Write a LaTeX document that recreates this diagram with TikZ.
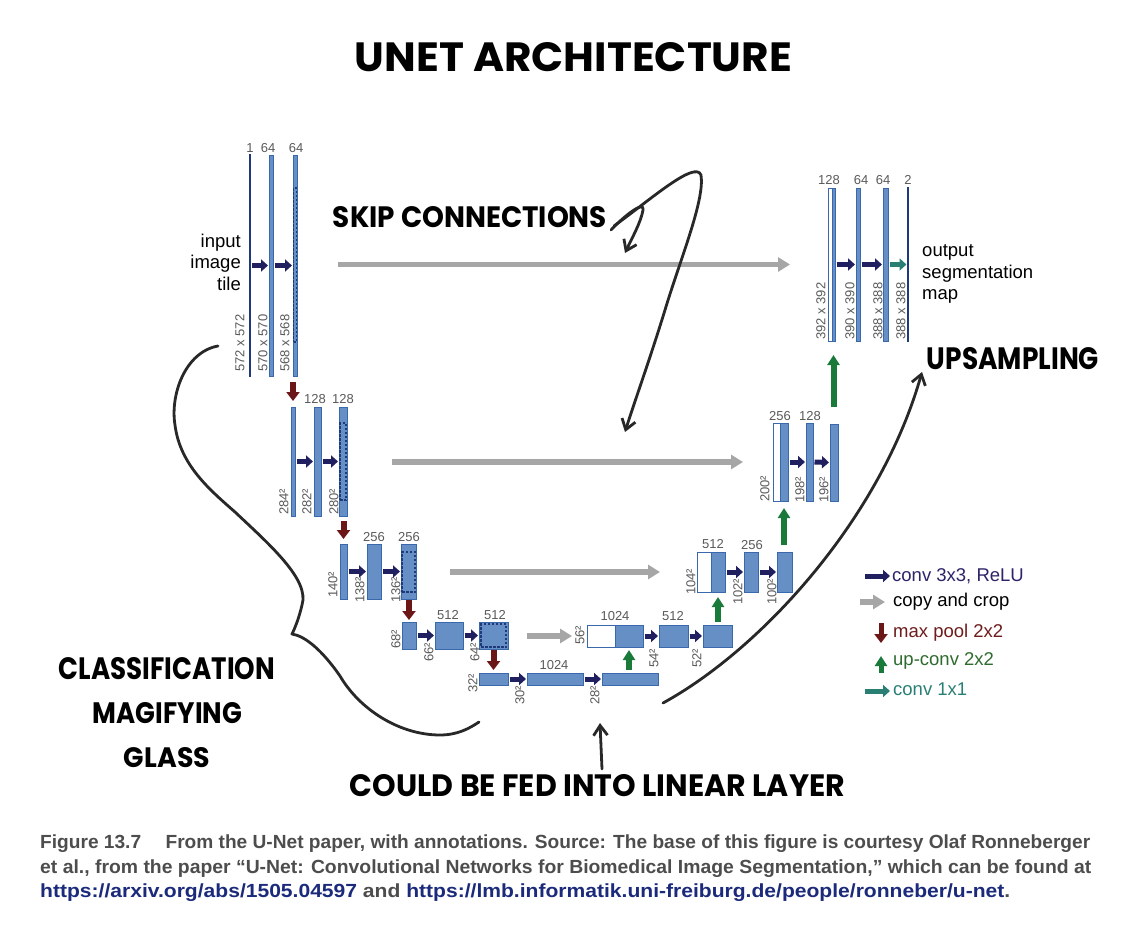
\documentclass[tikz,border=0pt]{standalone}
\usepackage{fontspec}
\usepackage{graphicx}
\setmainfont{Liberation Sans}
\newfontfamily\hand{Poppins}
\newfontfamily\capfont{Liberation Sans}
\usetikzlibrary{arrows.meta,fit}
\definecolor{barfill}{RGB}{102,144,197}
\definecolor{bardraw}{RGB}{58,104,173}
\definecolor{dashc}{RGB}{31,58,122}
\definecolor{numgray}{RGB}{90,90,90}
\definecolor{convc}{RGB}{32,32,96}
\definecolor{poolc}{RGB}{107,23,23}
\definecolor{upc}{RGB}{26,122,58}
\definecolor{copyc}{RGB}{166,166,166}
\definecolor{tealc}{RGB}{42,127,117}
\definecolor{inkc}{RGB}{40,40,40}
\definecolor{capgray}{RGB}{77,77,77}
\definecolor{capblue}{RGB}{27,42,122}
\definecolor{convtext}{RGB}{44,36,104}
\definecolor{pooltext}{RGB}{110,28,28}
\definecolor{uptext}{RGB}{46,107,46}
\begin{document}
\begin{tikzpicture}[x=1pt,y=-1pt,
  bar/.style={fit={#1}, inner sep=0pt, outer sep=0pt, fill=barfill, draw=bardraw, line width=0.8pt},
  wbar/.style={fit={#1}, inner sep=0pt, outer sep=0pt, fill=white, draw=bardraw, line width=0.8pt},
  tbar/.style={fit={#1}, inner sep=0pt, outer sep=0pt, draw=dashc, line width=1.3pt},
  dbox/.style={fit={#1}, inner sep=0pt, outer sep=0pt, draw=dashc, line width=1.6pt, dash pattern=on 2.5pt off 1.5pt},
  num/.style={font=\fontsize{13}{15}\selectfont, text=numgray, inner sep=0pt},
  rnum/.style={num, rotate=90, anchor=west},
  conv/.style={draw=convc, line width=5pt, -{Triangle[length=7pt,width=12pt]}, shorten <=1.5pt, shorten >=1pt},
  tealar/.style={draw=tealc, line width=5pt, -{Triangle[length=7pt,width=12pt]}, shorten <=1.5pt, shorten >=1pt},
  pool/.style={draw=poolc, line width=6pt, -{Triangle[length=9pt,width=13pt]}},
  upar/.style={draw=upc, line width=6pt, -{Triangle[length=10pt,width=12pt]}},
  copyar/.style={draw=copyc, line width=5.5pt, -{Triangle[length=12pt,width=14pt]}},
  ink/.style={draw=inkc, line width=2.8pt, line cap=round, line join=round},
  inkarrow/.style={ink, -{Straight Barb[length=10pt,width=14pt]}},
  big/.style={font=\fontsize{18.5}{21.5}\selectfont, inner sep=0pt},
  hw/.style={inner sep=0pt, outer sep=0pt},
  captxt/.style={inner sep=0pt, anchor=base west, font=\capfont\bfseries\fontsize{19}{22}\selectfont}
]
\useasboundingbox[fill=white] (0,0) rectangle (1137,939);

% ---------- level 1 (contracting) ----------
\node[tbar={(250,155)(250,376)}] (l1a) {};
\node[bar={(269,155)(273,376)}] (l1b) {};
\node[bar={(293,155)(297,376)}] (l1c) {};
\node[dbox={(293.5,188)(296.5,342)}] (l1cd) {};
\node[num] (n1a) at (250,148) {1};
\node[num] (n1b) at (268,148) {64};
\node[num] (n1c) at (296,148) {64};
\node[rnum] (s1a) at (240,372) {572 x 572};
\node[rnum] (s1b) at (263,372) {570 x 570};
\node[rnum] (s1c) at (285,372) {568 x 568};
\draw[conv] (l1a.east) -- (l1b.west);
\draw[conv] (l1b.east) -- (l1c.west);
\node[big, align=right, anchor=east] (inp) at (241,262) {input\\image\\tile};

% ---------- level 2 ----------
\node[bar={(291,407)(295,516)}] (l2a) {};
\node[bar={(314,407)(321,516)}] (l2b) {};
\node[bar={(339,407)(347,516)}] (l2c) {};
\node[dbox={(340,423)(346,500)}] (l2cd) {};
\node[num] (n2b) at (315,399) {128};
\node[num] (n2c) at (343,399) {128};
\node[rnum] (s2a) at (284,515) {284²};
\node[rnum] (s2b) at (307,515) {282²};
\node[rnum] (s2c) at (334,515) {280²};
\draw[conv] (l2a.east) -- (l2b.west);
\draw[conv] (l2b.east) -- (l2c.west);
\draw[pool, shorten <=6pt, shorten >=6pt] (l2a.north |- l1c.south) -- (l2a.north);

% ---------- level 3 ----------
\node[bar={(340,544)(347,599)}] (l3a) {};
\node[bar={(367,544)(381,599)}] (l3b) {};
\node[bar={(401,544)(416,599)}] (l3c) {};
\node[dbox={(402,552)(415,592)}] (l3cd) {};
\node[num] (n3b) at (374,537) {256};
\node[num] (n3c) at (409,537) {256};
\node[rnum] (s3a) at (333,598) {140²};
\node[rnum] (s3b) at (360,603) {138²};
\node[rnum] (s3c) at (396,603) {136²};
\draw[conv] (l3a.east) -- (l3b.west);
\draw[conv] (l3b.east) -- (l3c.west);
\draw[pool, shorten <=5pt, shorten >=5pt] (l3a.north |- l2c.south) -- (l3a.north);

% ---------- level 4 ----------
\node[bar={(402,622)(416,649)}] (l4a) {};
\node[bar={(435,622)(463,649)}] (l4b) {};
\node[bar={(479,622)(508,649)}] (l4c) {};
\node[dbox={(481,624)(506,647)}] (l4cd) {};
\node[num] (n4b) at (448,615) {512};
\node[num] (n4c) at (495,615) {512};
\node[rnum] (s4a) at (396,649) {68²};
\node[rnum] (s4b) at (429,662) {66²};
\node[rnum] (s4c) at (475,662) {64²};
\draw[conv] (l4a.east) -- (l4b.west);
\draw[conv] (l4b.east) -- (l4c.west);
\draw[pool, shorten <=1pt, shorten >=2pt] (l4a.north |- l3c.south) -- (l4a.north);

% ---------- level 5 (bottom) ----------
\node[bar={(479,673)(508,685)}] (l5a) {};
\node[bar={(527,673)(583,685)}] (l5b) {};
\node[bar={(602,673)(658,685)}] (l5c) {};
\node[num] (n5b) at (554,665) {1024};
\node[rnum] (s5a) at (473,693) {32²};
\node[rnum] (s5b) at (520,705) {30²};
\node[rnum] (s5c) at (595,705) {28²};
\draw[conv] (l5a.east) -- (l5b.west);
\draw[conv] (l5b.east) -- (l5c.west);
\draw[pool, shorten <=1pt, shorten >=3pt] (l5a.north |- l4c.south) -- (l5a.north);

% ---------- level 4 (expanding) ----------
\node[wbar={(587,625)(615,647)}] (r4w) {};
\node[bar={(615,625)(643,647)}] (r4b) {};
\node[bar={(659,625)(688,647)}] (r4c) {};
\node[bar={(703,625)(732,647)}] (r4d) {};
\node[num] (m4b) at (615,616) {1024};
\node[num] (m4c) at (673,616) {512};
\node[rnum] (t4a) at (580,645) {56²};
\node[rnum] (t4b) at (654,668) {54²};
\node[rnum] (t4c) at (697,668) {52²};
\draw[conv] (r4b.east) -- (r4c.west);
\draw[conv] (r4c.east) -- (r4d.west);
\draw[upar, shorten <=3pt, shorten >=3pt] (r4b.south |- l5c.north) -- (r4b.south);
\draw[copyar, shorten <=19pt, shorten >=15pt] (l4c.east |- r4w.west) -- (r4w.west);

% ---------- level 3 (expanding) ----------
\node[wbar={(697,552)(711,592)}] (r3w) {};
\node[bar={(711,552)(725,592)}] (r3b) {};
\node[bar={(744,552)(758,592)}] (r3c) {};
\node[bar={(777,552)(792,592)}] (r3d) {};
\node[num] (m3b) at (713,544) {512};
\node[num] (m3c) at (752,545) {256};
\node[rnum] (t3a) at (691,595) {104²};
\node[rnum] (t3b) at (738,605) {102²};
\node[rnum] (t3c) at (772,605) {100²};
\draw[conv] (r3b.east) -- (r3c.west);
\draw[conv] (r3c.east) -- (r3d.west);
\draw[upar, shorten <=3pt, shorten >=5pt] (r3b.south |- r4d.north) -- (r3b.south);
\draw[copyar, shorten <=34pt, shorten >=37pt] (l3c.east |- r3w.west) -- (r3w.west);

% ---------- level 2 (expanding) ----------
\node[wbar={(773,423)(780,501)}] (r2w) {};
\node[bar={(780,423)(788,501)}] (r2b) {};
\node[bar={(806,423)(813,501)}] (r2c) {};
\node[bar={(830,424)(838,501)}] (r2d) {};
\node[num] (m2b) at (780,416) {256};
\node[num] (m2c) at (810,416) {128};
\node[rnum] (t2a) at (765,502) {200²};
\node[rnum] (t2b) at (800,503) {198²};
\node[rnum] (t2c) at (824,503) {196²};
\draw[conv] (r2b.east) -- (r2c.west);
\draw[conv] (r2c.east) -- (r2d.west);
\draw[upar, shorten <=7pt, shorten >=7pt] (r2b.south |- r3d.north) -- (r2b.south);
\draw[copyar, shorten <=45pt, shorten >=30pt] (l2c.east |- r2w.west) -- (r2w.west);

% ---------- level 1 (expanding) ----------
\node[wbar={(828,188)(832,341)}] (r1w) {};
\node[bar={(832,188)(835,341)}] (r1b) {};
\node[bar={(856,188)(860,341)}] (r1c) {};
\node[bar={(883,188)(888,341)}] (r1d) {};
\node[tbar={(908,188)(908,341)}] (r1e) {};
\node[num] (m1a) at (829,180) {128};
\node[num] (m1b) at (861,180) {64};
\node[num] (m1c) at (883,180) {64};
\node[num] (m1d) at (908,180) {2};
\node[rnum] (t1a) at (821,340) {392 x 392};
\node[rnum] (t1b) at (850,340) {390 x 390};
\node[rnum] (t1c) at (878,340) {388 x 388};
\node[rnum] (t1d) at (901,340) {388 x 388};
\draw[conv] (r1b.east) -- (r1c.west);
\draw[conv] (r1c.east) -- (r1d.west);
\draw[tealar] (r1d.east) -- (r1e.west);
\draw[upar, shorten <=17pt, shorten >=14pt] (r1b.south |- r2d.north) -- (r1b.south);
\draw[copyar, shorten <=41pt, shorten >=38pt] (l1c.east |- r1w.west) -- (r1w.west);
\node[big, align=left, anchor=west] (outp) at (922,274) {output\\segmentation\\map};

% ---------- legend ----------
\coordinate (g1s) at (865,576); \coordinate (g1e) at (890,576);
\coordinate (g2s) at (860,602); \coordinate (g2e) at (885,602);
\coordinate (g3s) at (881,623); \coordinate (g3e) at (881,643);
\coordinate (g4s) at (881,673); \coordinate (g4e) at (881,656);
\coordinate (g5s) at (865,691); \coordinate (g5e) at (890,691);
\draw[conv, shorten <=0pt, shorten >=0pt] (g1s) -- (g1e);
\draw[copyar] (g2s) -- (g2e);
\draw[pool, line width=5pt] (g3s) -- (g3e);
\draw[upar, line width=5pt] (g4s) -- (g4e);
\draw[tealar, shorten <=0pt, shorten >=0pt] (g5s) -- (g5e);
\node[big, anchor=west, text=convtext] (lg1) at (892,576) {conv 3x3, ReLU};
\node[big, anchor=west, text=black] (lg2) at (893,602) {copy and crop};
\node[big, anchor=west, text=pooltext] (lg3) at (893,633) {max pool 2x2};
\node[big, anchor=west, text=uptext] (lg4) at (893,661) {up-conv 2x2};
\node[big, anchor=west, text=tealc] (lg5) at (893,689) {conv 1x1};

% ---------- handwritten annotations ----------
\node[hw] (title) at (573.5,57.5) {\resizebox{437pt}{29pt}{\hand\bfseries UNET ARCHITECTURE}};
\node[hw] (skip) at (470,217.5) {\resizebox{274pt}{21pt}{\hand\bfseries SKIP CONNECTIONS}};
\node[hw] (ups) at (1013,359) {\resizebox{172pt}{22pt}{\hand\bfseries UPSAMPLING}};
\node[hw] (cls1) at (167,669) {\resizebox{216pt}{22pt}{\hand\bfseries CLASSIFICATION}};
\node[hw] (cls2) at (167.5,713.5) {\resizebox{149pt}{21pt}{\hand\bfseries MAGIFYING}};
\node[hw] (cls3) at (167,758) {\resizebox{86pt}{20pt}{\hand\bfseries GLASS}};
\node[hw] (lin) at (597.5,786) {\resizebox{495pt}{22pt}{\hand\bfseries COULD BE FED INTO LINEAR LAYER}};

\coordinate (sk1) at (611,230);
\coordinate (sk2) at (614,226);
\coordinate (skt1) at (625,253);
\coordinate (skt2) at (625,432);
\draw[inkarrow] (sk1) .. controls (625,215) and (645,200) .. (643,210) .. controls (641,222) and (632,238) .. (skt1);
\draw[inkarrow] (sk2) .. controls (650,200) and (695,160) .. (701,175) .. controls (705,200) and (680,260) .. (665,310) .. controls (648,365) and (635,400) .. (skt2);

\coordinate (upA) at (663,703);
\coordinate (upB) at (922,372);
\draw[inkarrow] (upA) .. controls (760,650) and (880,520) .. (upB);

\coordinate (cfA) at (218,346);
\coordinate (cfB) at (479,722);
\draw[ink] (cfA) .. controls (185,352) and (170,395) .. (175,425) .. controls (180,465) and (210,490) .. (235,512) .. controls (270,545) and (310,580) .. (302,605) .. controls (299,618) and (295,628) .. (292,634) .. controls (305,636) and (322,650) .. (340,676) .. controls (360,710) and (400,735) .. (440,735) .. controls (458,735) and (470,728) .. (cfB);

\coordinate (lnA) at (602,769);
\coordinate (lnB) at (600,723);
\draw[inkarrow] (lnA) -- (lnB);

% ---------- caption ----------
\node[captxt, text=capgray] (c1) at (40,848) {\resizebox{1050pt}{\height}{Figure 13.7\hspace{1em} From the U-Net paper, with annotations. Source: The base of this figure is courtesy Olaf Ronneberger}};
\node[captxt, text=capgray] (c2) at (40,873) {\resizebox{1051pt}{\height}{et al., from the paper “U-Net: Convolutional Networks for Biomedical Image Segmentation,” which can be found at}};
\node[captxt, text=capgray] (c3) at (40,897) {\resizebox{970pt}{\height}{\color{capblue}https://arxiv.org/abs/1505.04597 \color{capgray}and \color{capblue}https://lmb.informatik.uni-freiburg.de/people/ronneber/u-net\color{capgray}.}};
\end{tikzpicture}
\end{document}
